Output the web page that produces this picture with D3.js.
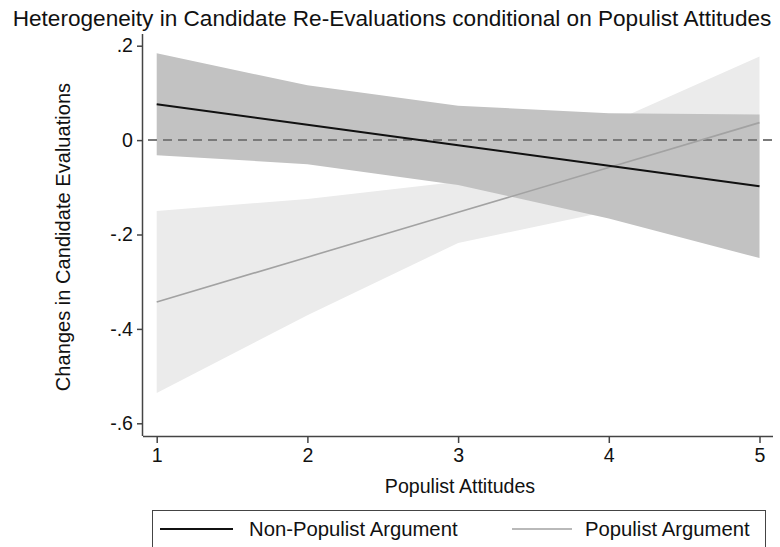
<!DOCTYPE html>
<html>
<head>
<meta charset="utf-8">
<script src="https://cdn.jsdelivr.net/npm/d3@7"></script>
<style>
  body { margin: 0; background: #fff; }
  svg { display: block; font-family: "Liberation Sans", Arial, sans-serif; }
</style>
</head>
<body>
<svg id="chart" width="780" height="547"></svg>
<script>
// Predicted changes in candidate evaluations by populist attitudes (1-5)
const attitudes = [1, 2, 3, 4, 5];

const nonPopulistFit   = [0.076, 0.0325, -0.011, -0.0545, -0.098];
const nonPopulistUpper = [0.184, 0.116, 0.073, 0.057, 0.054];
const nonPopulistLower = [-0.032, -0.051, -0.095, -0.166, -0.250];

const populistFit   = [-0.343, -0.248, -0.153, -0.058, 0.037];
const populistUpper = [-0.150, -0.125, -0.088, 0.035, 0.177];
const populistLower = [-0.536, -0.371, -0.218, -0.151, -0.103];

const yTicks = [0.2, 0, -0.2, -0.4, -0.6];
const yTickLabels = [".2", "0", "-.2", "-.4", "-.6"];
const xTicks = [1, 2, 3, 4, 5];

const titleText = "Heterogeneity in Candidate Re-Evaluations conditional on Populist Attitudes";
const yTitle = "Changes in Candidate Evaluations";
const xTitle = "Populist Attitudes";
const legendLabels = ["Non-Populist Argument", "Populist Argument"];

const svg = d3.select("#chart");
const labelSize = "19.6px";

// plot region
const plotLeft = 143, plotRight = 773, plotTop = 34, plotBottom = 436;

const x = d3.scaleLinear().domain([1, 5]).range([156.7, 759.5]);
const y = d3.scaleLinear().domain([-0.6, 0.2]).range([423.3, 45.7]);

const rows = attitudes.map((a, i) => ({
  a,
  nf: nonPopulistFit[i], nu: nonPopulistUpper[i], nl: nonPopulistLower[i],
  pf: populistFit[i], pu: populistUpper[i], pl: populistLower[i]
}));

const band = (lo, hi) => d3.area().x(d => x(d.a)).y0(d => y(d[lo])).y1(d => y(d[hi]));
const line = key => d3.line().x(d => x(d.a)).y(d => y(d[key]));

// confidence bands: populist first, non-populist on top
svg.append("path").datum(rows).attr("d", band("pl", "pu")).attr("fill", "#ebebeb");
svg.append("path").datum(rows).attr("d", band("nl", "nu")).attr("fill", "#c2c2c2");

// zero reference line
svg.append("line")
  .attr("x1", plotLeft + 5).attr("x2", plotRight)
  .attr("y1", y(0)).attr("y2", y(0))
  .attr("stroke", "#7a7a7a").attr("stroke-width", 2)
  .attr("stroke-dasharray", "9,6");

// fitted lines
svg.append("path").datum(rows).attr("d", line("pf"))
  .attr("fill", "none").attr("stroke", "#a2a2a2").attr("stroke-width", 1.6);
svg.append("path").datum(rows).attr("d", line("nf"))
  .attr("fill", "none").attr("stroke", "#111").attr("stroke-width", 2);

// axes
const yAxis = d3.axisLeft(y).tickValues(yTicks)
  .tickFormat((d, i) => yTickLabels[i]).tickSize(6).tickPadding(4);
const gy = svg.append("g").attr("transform", `translate(${plotLeft},0)`).call(yAxis);
gy.select(".domain").attr("d", `M-0.5,${plotTop}V${plotBottom}`);

const xAxis = d3.axisBottom(x).tickValues(xTicks).tickFormat(d3.format("d"))
  .tickSize(7).tickPadding(5);
const gx = svg.append("g").attr("transform", `translate(0,${plotBottom})`).call(xAxis);
gx.select(".domain").attr("d", `M${plotLeft},0.5H${plotRight}`);

[gx, gy].forEach(g => {
  g.selectAll(".domain").attr("stroke", "#444").attr("stroke-width", 1.5).attr("fill", "none");
  g.selectAll(".tick line").attr("stroke", "#444").attr("stroke-width", 1.5);
  g.selectAll(".tick text").attr("fill", "#111").style("font-size", labelSize)
    .style("font-family", "'Liberation Sans', Arial, sans-serif");
});

// titles
svg.append("text").attr("x", 392).attr("y", 26).attr("text-anchor", "middle")
  .style("font-size", "22.6px").attr("fill", "#111").text(titleText);

svg.append("text")
  .attr("transform", `translate(70,${(plotTop + plotBottom) / 2 + 2}) rotate(-90)`)
  .attr("text-anchor", "middle").style("font-size", "20.1px").attr("fill", "#111")
  .text(yTitle);

svg.append("text").attr("x", 460).attr("y", 493)
  .attr("text-anchor", "middle").style("font-size", labelSize).attr("fill", "#111")
  .text(xTitle);

// legend
const lg = svg.append("g");
lg.append("rect").attr("x", 152.5).attr("y", 510.5).attr("width", 613).attr("height", 45)
  .attr("fill", "#fff").attr("stroke", "#444").attr("stroke-width", 1);
const legendItems = [
  { label: legendLabels[0], color: "#111", w: 2, x0: 160, x1: 233, tx: 249 },
  { label: legendLabels[1], color: "#a2a2a2", w: 1.6, x0: 512, x1: 572, tx: 585 }
];
legendItems.forEach(it => {
  lg.append("line").attr("x1", it.x0).attr("x2", it.x1).attr("y1", 529).attr("y2", 529)
    .attr("stroke", it.color).attr("stroke-width", it.w);
  lg.append("text").attr("x", it.tx).attr("y", 536).style("font-size", "20.3px")
    .attr("fill", "#111").text(it.label);
});
</script>
</body>
</html>
